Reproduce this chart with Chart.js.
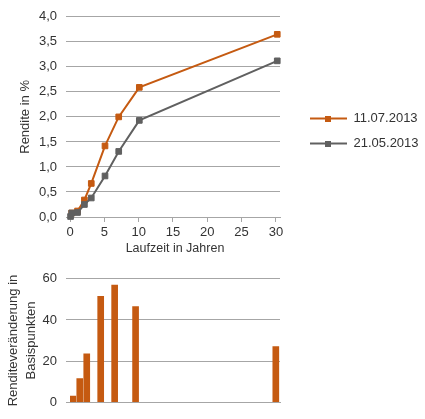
<!DOCTYPE html>
<html><head><meta charset="utf-8">
<script src="https://cdn.jsdelivr.net/npm/chart.js@4"></script>
<style>
html,body{margin:0;padding:0;background:#fff;width:425px;height:419px;overflow:hidden}
canvas{position:absolute;left:0}
#top{top:0}
#bottom{top:262px}
</style></head><body>
<canvas id="top" width="425" height="262"></canvas>
<canvas id="bottom" width="425" height="157"></canvas>
<script>
// ---- data ----
const seriesLabels = ['11.07.2013', '21.05.2013'];
const maturities1107 = [0.25, 1.1, 2.1, 3.1, 5.1, 7.1, 10.1, 30.2];
const yields1107     = [0.08, 0.12, 0.34, 0.67, 1.42, 2.00, 2.59, 3.65];
const maturities2105 = [0.08, 0.25, 1.1, 2.1, 3.1, 5.1, 7.1, 10.1, 30.2];
const yields2105     = [0.01, 0.08, 0.09, 0.25, 0.38, 0.82, 1.31, 1.93, 3.12];
const changeMaturities = [1.1, 2.1, 3.1, 5.1, 7.1, 10.1, 30.2];
const changeBp         = [3, 11.5, 23.5, 51.5, 57, 46.5, 27];
const xTitle = 'Laufzeit in Jahren';
const yTitleTop = 'Rendite in %';
const yTitleBottom = ['Renditeveränderung in', 'Basispunkten'];

// ---- style ----
const ORANGE = '#C55A11';
const GRAY = '#606060';
const GRID = '#A6A6A6';
Chart.defaults.font.family = '"Liberation Sans", Arial, sans-serif';
Chart.defaults.font.size = 13;
Chart.defaults.color = '#333333';
Chart.defaults.animation = false;

function legendIcon(color) {
  const c = document.createElement('canvas');
  c.width = 37; c.height = 6;
  const g = c.getContext('2d');
  g.fillStyle = color;
  g.fillRect(0, 2, 37, 2);
  g.fillRect(15, 0, 6, 6);
  return c;
}
const icons = [legendIcon(ORANGE), legendIcon(GRAY)];

const legendPlace = {
  id: 'legendPlace',
  afterLayout(chart) {
    const lg = chart.legend;
    if (!lg) return;
    const w = lg.width, h = lg.height;
    lg.left = 298; lg.right = lg.left + w;
    lg.top = 100; lg.bottom = lg.top + h;
  }
};

function pts(xs, ys) { return xs.map((x, i) => ({x: x, y: ys[i]})); }

new Chart(document.getElementById('top'), {
  type: 'line',
  data: {
    datasets: [
      { label: seriesLabels[0], data: pts(maturities1107, yields1107), borderColor: ORANGE, backgroundColor: ORANGE,
        borderWidth: 2, pointStyle: 'rect', pointRadius: 4, pointBorderWidth: 1, pointBackgroundColor: ORANGE, pointBorderColor: ORANGE, order: 1 },
      { label: seriesLabels[1], data: pts(maturities2105, yields2105), borderColor: GRAY, backgroundColor: GRAY,
        borderWidth: 2, pointStyle: 'rect', pointRadius: 4, pointBorderWidth: 1, pointBackgroundColor: GRAY, pointBorderColor: GRAY, order: 0 }
    ]
  },
  options: {
    responsive: false,
    maintainAspectRatio: false,
    clip: false,
    layout: { padding: { top: 13, right: 145, bottom: 0, left: 0 } },
    plugins: {
      tooltip: { enabled: false },
      legend: {
        position: 'chartArea',
        align: 'start',
        labels: {
          usePointStyle: true,
          pointStyleWidth: 37,
          padding: 12,
          color: '#333333',
          font: { size: 13 },
          generateLabels(chart) {
            const items = Chart.defaults.plugins.legend.labels.generateLabels(chart);
            items.sort((a, b) => a.datasetIndex - b.datasetIndex);
            items.forEach(it => { it.pointStyle = icons[it.datasetIndex]; });
            return items;
          }
        }
      }
    },
    scales: {
      x: {
        type: 'linear', min: 0, max: 30.6, offset: false,
        afterFit(s) { s.height = 45; },
        ticks: { stepSize: 5, includeBounds: false, padding: 3, font: { size: 13 } },
        grid: { drawOnChartArea: false, tickLength: 5, color: GRID },
        border: { display: true, color: GRID },
        title: { display: true, text: xTitle, font: { size: 12.5 }, padding: { top: 0, bottom: 6 } }
      },
      y: {
        min: 0, max: 4,
        afterFit(s) { s.width = 70; },
        ticks: { stepSize: 0.5, padding: 9, font: { size: 13 },
          callback: v => v.toFixed(1).replace('.', ',') },
        grid: { color: GRID, tickLength: 4 },
        border: { display: false },
        title: { display: true, text: yTitleTop, font: { size: 13 }, padding: { top: 18, bottom: 0 } }
      }
    }
  },
  plugins: [legendPlace]
});

new Chart(document.getElementById('bottom'), {
  type: 'bar',
  data: {
    datasets: [
      { label: 'Renditeveränderung', data: pts(changeMaturities, changeBp), backgroundColor: ORANGE, barThickness: 6 }
    ]
  },
  options: {
    responsive: false,
    maintainAspectRatio: false,
    layout: { padding: { top: 16, right: 145, bottom: 0, left: 0 } },
    plugins: { legend: { display: false }, tooltip: { enabled: false } },
    scales: {
      x: {
        type: 'linear', min: 0.7, max: 30.8, offset: false,
        afterFit(s) { s.height = 15; },
        ticks: { display: false },
        grid: { display: false },
        border: { display: true, color: GRID }
      },
      y: {
        min: 0, max: 60,
        afterFit(s) { s.width = 70; },
        ticks: { stepSize: 20, padding: 9, font: { size: 13 } },
        grid: { color: GRID, tickLength: 4 },
        border: { display: false },
        title: { display: true, text: yTitleBottom, font: { size: 13, lineHeight: 1.45 }, padding: { top: 3.6, bottom: 0 } }
      }
    }
  }
});
</script>
</body></html>
